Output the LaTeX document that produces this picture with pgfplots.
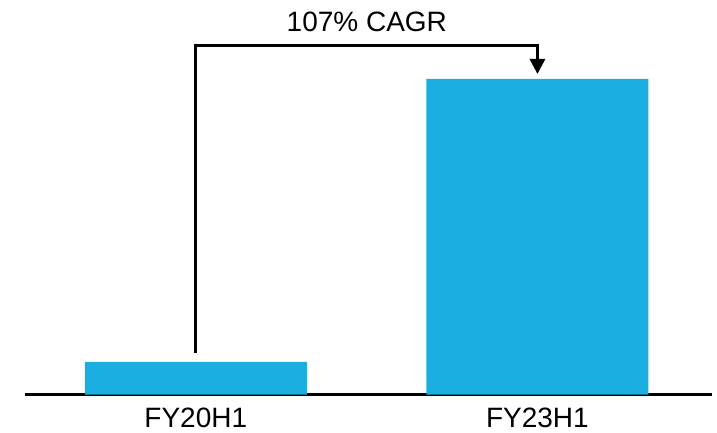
\documentclass[border=0pt]{standalone}
\usepackage{fontspec}
\setmainfont{Liberation Sans}
\usepackage{pgfplots}
\pgfplotsset{compat=1.18}
\usetikzlibrary{arrows.meta}
\definecolor{barblue}{HTML}{1AAFE0}
\newcommand{\lbl}{\fontsize{28bp}{33bp}\selectfont}
\begin{document}
\begin{tikzpicture}
\path[use as bounding box] (0bp,0bp) rectangle (717bp,433bp);
\begin{axis}[
  at={(25bp,38.5bp)}, anchor=south west,
  scale only axis, width=687bp, height=394.5bp,
  xmin=-0.5, xmax=1.511, ymin=0, ymax=394.5,
  axis x line*=bottom, axis y line=none,
  x axis line style={line width=3bp,-},
  xtick={0,1}, xticklabels={FY20H1,FY23H1},
  major tick length=0pt,
  xticklabel style={font=\lbl, anchor=north, inner sep=0pt, text depth=0pt, yshift=-13bp},
  ybar, bar width=222bp,
  clip=false,
]
\addplot[fill=barblue, draw=none] coordinates {(0,32.5) (1,315.5)};
\draw[line width=3bp, line join=miter, -{Triangle[length=15bp,width=15bp]}]
  (axis cs:0,41.5) -- (axis cs:0,349) -- (axis cs:1,349) -- (axis cs:1,320.5);
\node[font=\lbl, anchor=base, inner sep=0pt] at (axis cs:0.5007,362.5) {107\% CAGR};
\end{axis}
\end{tikzpicture}
\end{document}
